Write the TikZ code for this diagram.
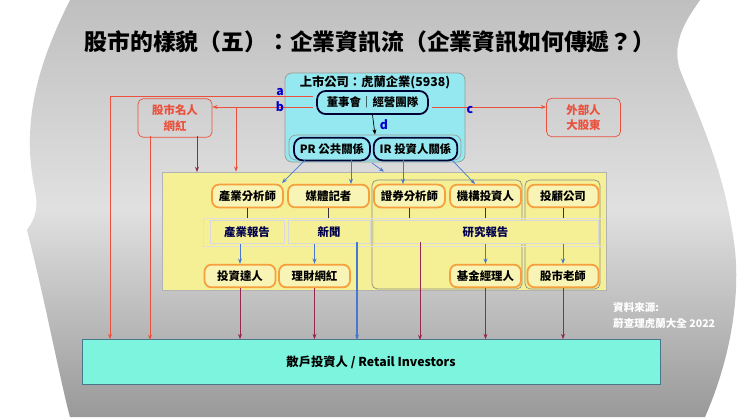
\documentclass[tikz,border=0pt]{standalone}
\usepackage{fontspec}
\setmainfont{Noto Sans CJK TC}
\usetikzlibrary{arrows.meta}
\definecolor{boardcyan}{RGB}{150,232,240}
\definecolor{padyellow}{RGB}{245,240,150}
\definecolor{edgeorange}{RGB}{245,160,60}
\definecolor{linkred}{RGB}{235,80,60}
\definecolor{linkplum}{RGB}{150,40,80}
\definecolor{linkblue}{RGB}{70,120,210}
\definecolor{retailcyan}{RGB}{125,245,222}
\tikzset{
  role/.style={draw=edgeorange,line width=1pt,rounded corners=4pt,fill=padyellow!70,
    minimum width=1.42cm,minimum height=0.38cm,font=\fontsize{6.5}{7}\selectfont\bfseries},
  board/.style={draw=black!80!blue,line width=1pt,rounded corners=5pt,fill=boardcyan,
    minimum height=0.4cm,font=\fontsize{6.5}{7}\selectfont\bfseries},
  report/.style={draw=black!15,fill=padyellow,minimum height=0.42cm,
    font=\fontsize{6.5}{7}\selectfont\bfseries,text=black!70!blue},
  outsider/.style={draw=linkred,rounded corners=3pt,text=linkred,align=center,
    minimum width=1.48cm,minimum height=0.72cm,font=\fontsize{6.5}{9}\selectfont\bfseries},
  tag/.style={text=blue!80!black,font=\fontsize{7}{7}\selectfont\bfseries},
  red link/.style={linkred,-{Stealth[length=3pt]}},
  plum link/.style={linkplum,-{Stealth[length=3pt]}},
  blue link/.style={linkblue,-{Stealth[length=3pt]}}
}
\begin{document}
\begin{tikzpicture}[x=0.02cm,y=-0.02cm]
\useasboundingbox (0,0) rectangle (740,417);
% background
\fill[white] (0,0) rectangle (740,417);
\shade[top color=black!25,bottom color=black!40,middle color=black!12]
  (70,0) .. controls (40,60) and (20,120) .. (35,190)
  .. controls (40,215) and (30,225) .. (27,230)
  .. controls (45,300) and (60,380) .. (70,417) -- (705,417)
  .. controls (730,360) and (740,300) .. (735,250)
  .. controls (725,170) and (700,120) .. (680,70)
  .. controls (670,40) and (690,15) .. (700,0) -- cycle;

\node[font=\fontsize{13}{13}\selectfont\bfseries] (title) at (370,42)
  {股市的樣貌（五）：企業資訊流（企業資訊如何傳遞？）};

% listed company
\node[draw=black!40,fill=boardcyan,rounded corners=4pt,minimum width=3.6cm,minimum height=1.78cm] (company) at (375,117.5) {};
\node[font=\fontsize{7}{7}\selectfont\bfseries] (companyname) at (375,82) {上市公司：虎蘭企業(5938)};
\node[board,minimum width=2.22cm] (boardteam) at (372.5,102.5) {董事會｜經營團隊};
\node[draw=black!40,rounded corners=4pt,minimum width=3.44cm,minimum height=0.5cm] (relations) at (375,147.5) {};
\node[board,minimum width=1.52cm] (pr) at (332,149) {PR 公共關係};
\node[board,minimum width=1.66cm] (ir) at (415.5,149) {IR 投資人關係};
\draw[-{Stealth[length=3pt]}] (boardteam.south) -- (relations.north) node[tag,midway,right] {d};

% outsiders
\node[outsider] (celebrity) at (175,118) {股市名人\\網紅};
\node[outsider] (majority) at (583.5,117.5) {外部人\\大股東};

% market participants
\node[draw=black!30,fill=padyellow,minimum width=8.88cm,minimum height=2.36cm] (market) at (384,231) {};
\node[draw=black!45,rounded corners=3pt,minimum width=3cm,minimum height=2.18cm] (brokers) at (447,234.5) {};
\node[draw=black!45,rounded corners=3pt,minimum width=1.5cm,minimum height=2.18cm] (advisory) at (562.5,234.5) {};
\node[draw=black!12,minimum width=8cm,minimum height=0.56cm] (band) at (403,232) {};

\node[role] (indanalyst) at (247.5,196) {產業分析師};
\node[role,minimum width=1.62cm] (journalist) at (328.5,196) {媒體記者};
\node[role] (secanalyst) at (409.5,196) {證券分析師};
\node[role] (institution) at (485.5,196) {機構投資人};
\node[role] (advisor) at (563,196) {投顧公司};

\node[report,minimum width=1.48cm] (indreport) at (247,232) {產業報告};
\node[report,minimum width=1.64cm] (news) at (329,232) {新聞};
\node[report,minimum width=4.5cm] (research) at (485.5,232) {研究報告};

\node[role] (expert) at (240,276) {投資達人};
\node[role] (influencer) at (314.5,276) {理財網紅};
\node[role] (fundmgr) at (485.5,276) {基金經理人};
\node[role] (teacher) at (563,276) {股市老師};

% retail investors
\node[draw=black!50!cyan,fill=retailcyan,minimum width=11.56cm,minimum height=0.9cm,
  font=\fontsize{7}{7}\selectfont\bfseries] (retail) at (371,362) {散戶投資人 / Retail Investors};

% information links
\coordinate (aleft) at (110,96);
\coordinate (bsplit) at (236,107);
\draw[linkred] (313,96) -- (aleft);
\draw[red link] (aleft) -- (aleft |- retail.north);
\draw[red link] (313,107) -- (celebrity.east |- bsplit);
\draw[red link] (bsplit) -- (bsplit |- market.north);
\draw[red link] (432,107) -- (majority.west |- 0,107);
\node[tag] (taga) at (280,92) {a};
\draw (280,107) node[tag] (tagb) {b};
\node[tag] (tagc) at (470,110) {c};
\draw[red link] (150,136) -- (150,340);
\draw[plum link] (197,136) -- (197,172);

\draw[blue link] (305,160) -- (282,183);
\draw[blue link] (351,160) -- (351,184);
\draw[blue link] (372,163) -- (market.north);
\draw[blue link] (403,160) -- (403,184);
\draw[blue link] (452,160) -- (475,184);

\foreach \src in {indanalyst,journalist,secanalyst,institution,advisor}
  \draw[black!80] (\src.south) -- (\src.south |- band.north);
\draw[blue link] (indreport.south -| expert) -- (expert.north);
\draw[blue link] (news.south -| influencer) -- (influencer.north);
\draw[blue link] (research.south -| fundmgr) -- (fundmgr.north);
\draw[blue link] (research.south -| teacher) -- (teacher.north);

\foreach \src in {expert,influencer,fundmgr,teacher}
  \draw[plum link] (\src.south) -- (\src.south |- retail.north);
\draw[blue link,thick] (357,242) -- (357,340);
\draw[plum link] (420,242) -- (420,340);

% source
\node[text=white,align=left,anchor=north west,font=\fontsize{6}{9}\selectfont\bfseries] (source) at (607,296)
  {資料來源:\\蔚查理虎蘭大全 2022};
\end{tikzpicture}
\end{document}
